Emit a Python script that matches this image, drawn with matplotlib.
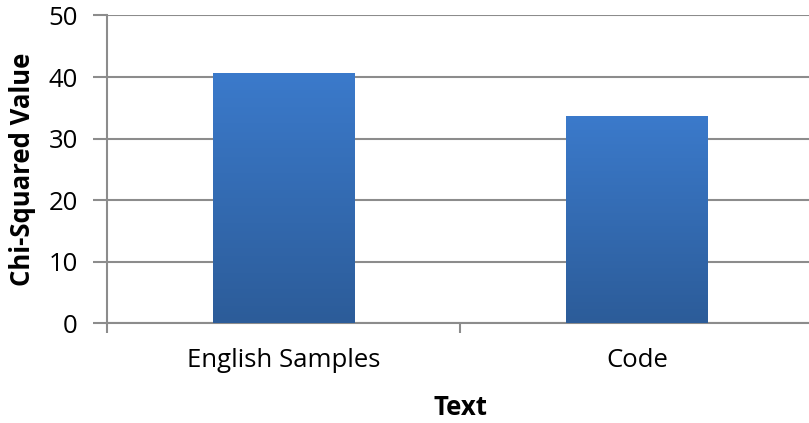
import numpy as np
import matplotlib.pyplot as plt
from matplotlib.colors import LinearSegmentedColormap

categories = ['English Samples', 'Code']
chi_values = [40.6, 33.6]
yticks = [0, 10, 20, 30, 40, 50]

plt.rcParams['font.family'] = ['Open Sans', 'DejaVu Sans']

fig = plt.figure(figsize=(8.09, 4.23), dpi=100)
ax = fig.add_axes([107 / 809, 99.7 / 423, 706.8 / 809, 307.8 / 423])

x = np.arange(len(categories))
width = 0.4
bars = ax.bar(x, chi_values, width=width, color='none', zorder=3)

# vertical blue gradient inside each bar
grad_cmap = LinearSegmentedColormap.from_list('bar_grad', ['#2c5c99', '#3b7acb'])
grad = np.linspace(0, 1, 256).reshape(-1, 1)
for b in bars:
    x0 = b.get_x()
    ax.imshow(grad, cmap=grad_cmap, origin='lower', aspect='auto',
              extent=[x0, x0 + b.get_width(), 0, b.get_height()], zorder=3)

ax.set_xlim(-0.5, len(categories) - 0.5)
ax.set_ylim(0, 50)
ax.set_yticks(yticks)
ax.set_xticks(x)
ax.set_xticklabels(categories)
ax.set_xticks(np.arange(-0.5, len(categories)), minor=True)

grid_col = '#8c8c8c'
ax.yaxis.grid(True, color=grid_col, linewidth=1.5, zorder=0)
ax.set_axisbelow(True)
for s in ['top', 'right']:
    ax.spines[s].set_visible(False)
for s in ['left', 'bottom']:
    ax.spines[s].set_color(grid_col)
    ax.spines[s].set_linewidth(1.5)

ax.tick_params(axis='y', length=10, width=1.5, color=grid_col, labelsize=18.5, pad=11)
ax.tick_params(axis='x', which='major', length=0, labelsize=18.5, pad=18)
ax.tick_params(axis='x', which='minor', length=7, width=1.5, color=grid_col)

ax.set_ylabel('Chi-Squared Value', fontsize=18.5, fontweight='bold', labelpad=9)
ax.set_xlabel('Text', fontsize=18.5, fontweight='bold', labelpad=15)

fig.savefig('out.png', dpi=100)
